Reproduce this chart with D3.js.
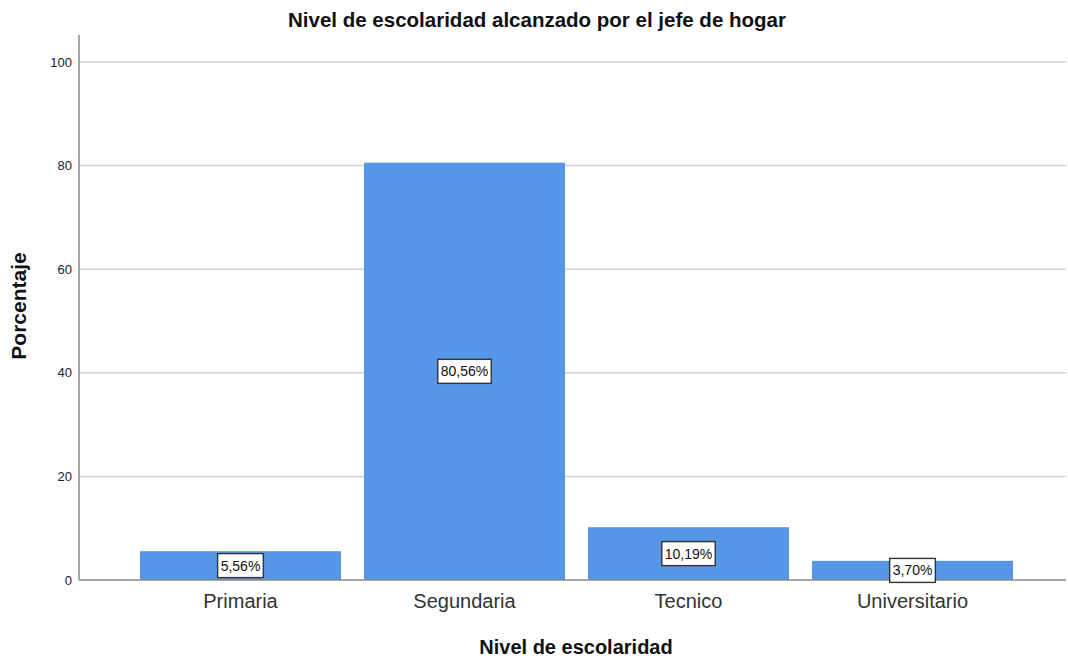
<!DOCTYPE html>
<html><head><meta charset="utf-8">
<script src="https://cdn.jsdelivr.net/npm/d3@7"></script>
<style>body{margin:0;background:#fff}svg{display:block}</style>
</head><body>
<svg id="c" width="1068" height="660"></svg>
<script>
const categories = ["Primaria","Segundaria","Tecnico","Universitario"];
const values = [5.56, 80.56, 10.19, 3.70];
const labels = ["5,56%","80,56%","10,19%","3,70%"];
const yTicks = [0,20,40,60,80,100];

const svg = d3.select("#c");
const y = d3.scaleLinear().domain([0,100]).range([580,62]);
const x = d3.scaleBand().domain(categories).range([128.5,1024.5]).paddingInner(0.1027).paddingOuter(0.0513);
const font = "Arial, 'Liberation Sans', sans-serif";

// grid
svg.append("g").selectAll("line").data(yTicks.filter(d=>d>0)).join("line")
  .attr("x1",79).attr("x2",1066).attr("y1",d=>y(d)).attr("y2",d=>y(d))
  .attr("stroke","#d0d0d0").attr("stroke-width",1.5);

// bars
svg.append("g").selectAll("rect").data(values).join("rect")
  .attr("x",(d,i)=>x(categories[i])).attr("width",x.bandwidth())
  .attr("y",d=>y(d)).attr("height",d=>y(0)-y(d)).attr("fill","#5596e6");

// axes
const yAxis = d3.axisLeft(y).tickValues(yTicks).tickSize(0).tickPadding(7);
const gy = svg.append("g").attr("transform","translate(79,0)").call(yAxis);
gy.select(".domain").remove();
gy.selectAll("text").attr("font-family",font).attr("font-size",13).attr("fill","#222");
svg.append("line").attr("x1",79).attr("x2",79).attr("y1",35).attr("y2",580).attr("stroke","#888").attr("stroke-width",1.5);
svg.append("line").attr("x1",79).attr("x2",1066).attr("y1",580).attr("y2",580).attr("stroke","#888").attr("stroke-width",1.5);

const xAxis = d3.axisBottom(x).tickSize(0).tickPadding(14);
const gx = svg.append("g").attr("transform","translate(0,580)").call(xAxis);
gx.select(".domain").remove();
gx.selectAll("text").attr("font-family",font).attr("font-size",20).attr("fill","#333");

// value labels
const lg = svg.append("g").selectAll("g").data(values).join("g")
  .attr("transform",(d,i)=>`translate(${x(categories[i])+x.bandwidth()/2},${(y(d)+y(0))/2})`);
lg.append("text").text((d,i)=>labels[i]).attr("text-anchor","middle").attr("dy","0.36em")
  .attr("font-family",font).attr("font-size",14).attr("fill","#111");
lg.each(function(){
  const g = d3.select(this); const b = g.select("text").node().getBBox();
  g.insert("rect","text").attr("x",b.x-3).attr("y",-12).attr("width",b.width+6).attr("height",24)
    .attr("fill","#fff").attr("stroke","#333").attr("stroke-width",1.4);
});

// titles
svg.append("text").attr("x",537).attr("y",27).attr("text-anchor","middle").attr("font-family",font)
  .attr("font-size",20.5).attr("font-weight","bold").attr("fill","#111").text("Nivel de escolaridad alcanzado por el jefe de hogar");
svg.append("text").attr("x",576).attr("y",654).attr("text-anchor","middle").attr("font-family",font)
  .attr("font-size",20).attr("font-weight","bold").attr("fill","#111").text("Nivel de escolaridad");
svg.append("text").attr("transform","translate(26,306) rotate(-90)").attr("text-anchor","middle").attr("font-family",font)
  .attr("font-size",21).attr("font-weight","bold").attr("fill","#111").text("Porcentaje");
</script>
</body></html>
